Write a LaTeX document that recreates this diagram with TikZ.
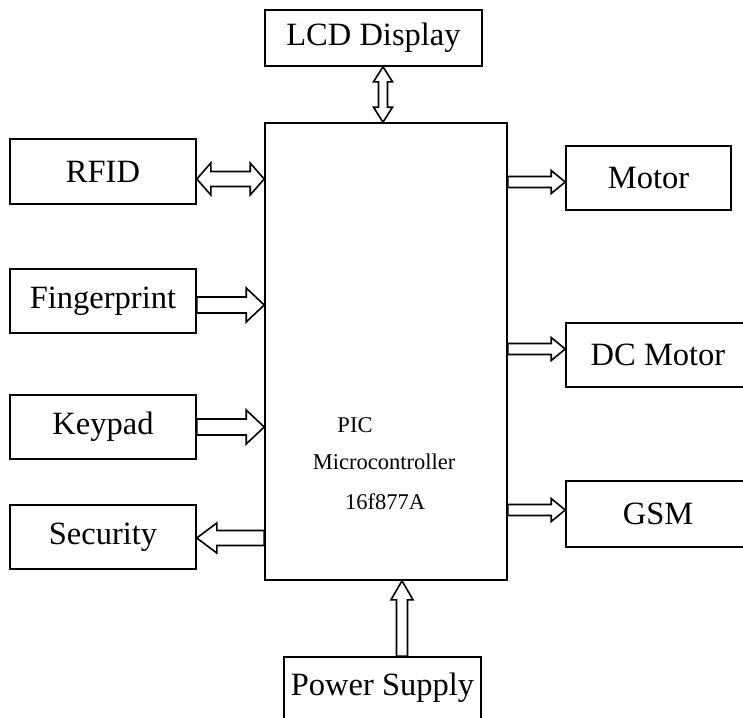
\documentclass[tikz,border=0pt]{standalone}
\usepackage{fontspec}
\setmainfont{Liberation Serif}
\usetikzlibrary{calc}
\tikzset{
  blk/.style={draw, line width=1.6pt, inner sep=0pt, font=\fontsize{32.5}{38}\selectfont},
  inner/.style={inner sep=0pt, font=\fontsize{22.5}{27}\selectfont},
  arrline/.style={draw, line width=1.6pt, fill=white, line join=miter}
}
% single-headed block arrow from #1 to #2 (head at #2); #3 half shaft, #4 half head, #5 head length
\newcommand\blockarr[5]{%
  \path coordinate (hh) at ($(#2)!#5!(#1)$);
  \draw[arrline] ($(#1)!#3!90:(#2)$) -- ($(hh)!#3!90:(#2)$) -- ($(hh)!#4!90:(#2)$) -- (#2)
    -- ($(hh)!#4!-90:(#2)$) -- ($(hh)!#3!-90:(#2)$) -- ($(#1)!#3!-90:(#2)$) -- cycle;
}
% double-headed block arrow between #1 and #2
\newcommand\dblockarr[5]{%
  \path coordinate (ha) at ($(#1)!#5!(#2)$) coordinate (hb) at ($(#2)!#5!(#1)$);
  \draw[arrline] (#1) -- ($(ha)!#4!90:(#2)$) -- ($(ha)!#3!90:(#2)$) -- ($(hb)!#3!90:(#2)$)
    -- ($(hb)!#4!90:(#2)$) -- (#2) -- ($(hb)!#4!-90:(#2)$) -- ($(hb)!#3!-90:(#2)$)
    -- ($(ha)!#3!-90:(#2)$) -- ($(ha)!#4!-90:(#2)$) -- cycle;
}
\begin{document}
\begin{tikzpicture}[x=1pt,y=-1pt]
\useasboundingbox (0,0) rectangle (743,717);
% boxes
\node[blk, minimum width=242pt, minimum height=457pt] (main) at (386,351.5) {};
\node[blk, minimum width=217pt, minimum height=56pt] (lcd) at (373.5,38) {LCD Display};
\node[blk, minimum width=186pt, minimum height=65pt] (rfid) at (103,171.5) {RFID};
\node[blk, minimum width=186pt, minimum height=64pt] (fp) at (103,301) {Fingerprint};
\node[blk, minimum width=186pt, minimum height=64pt] (key) at (103,427) {Keypad};
\node[blk, minimum width=186pt, minimum height=64pt] (sec) at (103,537) {Security};
\node[blk, minimum width=165pt, minimum height=64pt] (motor) at (648.5,178) {Motor};
\node[blk, minimum width=184pt, minimum height=64pt] (dc) at (658,355) {DC Motor};
\node[blk, minimum width=184pt, minimum height=66pt] (gsm) at (658,514) {GSM};
\node[blk, minimum width=197pt, minimum height=62pt] (ps) at (382.5,688) {Power Supply};
% inner text
\node[inner] (pic) at (355,425) {PIC};
\node[inner] (mc) at (384,462) {Microcontroller};
\node[inner] (pn) at (385,502) {16f877A};
% connector end points
\coordinate (lcdA) at ([xshift=9.5pt]lcd.south);
\coordinate (lcdB) at (lcdA |- main.north);
\coordinate (rfA) at ([yshift=-7.5pt]rfid.east);
\coordinate (rfB) at (rfA -| main.west);
\coordinate (fpA) at ([yshift=-4pt]fp.east);
\coordinate (fpB) at (fpA -| main.west);
\coordinate (kyA) at (key.east);
\coordinate (kyB) at (kyA -| main.west);
\coordinate (scB) at ([yshift=-1pt]sec.east);
\coordinate (scA) at (scB -| main.west);
\coordinate (moB) at ([yshift=-4pt]motor.west);
\coordinate (moA) at (moB -| main.east);
\coordinate (dcB) at ([yshift=6pt]dc.west);
\coordinate (dcA) at (dcB -| main.east);
\coordinate (gsB) at ([yshift=4pt]gsm.west);
\coordinate (gsA) at (gsB -| main.east);
\coordinate (psA) at ([xshift=19.5pt]ps.north);
\coordinate (psB) at (psA |- main.south);
% connectors
\dblockarr{lcdA}{lcdB}{4.5pt}{9.5pt}{15pt}
\dblockarr{rfA}{rfB}{7.5pt}{16pt}{14pt}
\blockarr{fpA}{fpB}{8pt}{17pt}{18pt}
\blockarr{kyA}{kyB}{8pt}{17pt}{18pt}
\blockarr{scA}{scB}{7.5pt}{15pt}{20pt}
\blockarr{moA}{moB}{5.5pt}{11.5pt}{14pt}
\blockarr{dcA}{dcB}{5.5pt}{11.5pt}{14pt}
\blockarr{gsA}{gsB}{5.5pt}{11.5pt}{14pt}
\blockarr{psA}{psB}{5.5pt}{11pt}{19pt}
\end{tikzpicture}
\end{document}
